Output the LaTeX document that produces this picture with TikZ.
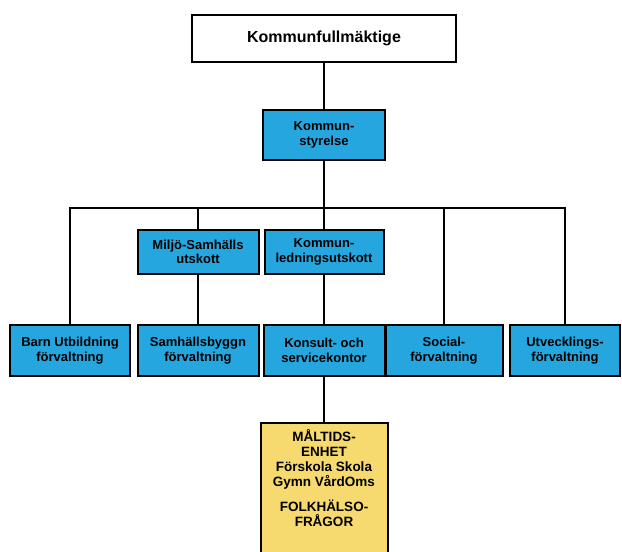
\documentclass[tikz,border=0pt]{standalone}
\usepackage{fontspec}
\setsansfont{Liberation Sans}
\usepackage{tikz}
\usetikzlibrary{positioning,calc}
\definecolor{orgblue}{RGB}{38,166,222}
\definecolor{orgyellow}{RGB}{246,218,112}

\begin{document}
\begin{tikzpicture}[x=1pt,y=1pt,line width=2pt,
  org node/.style={rectangle,draw=black,line width=2pt,align=center,
  font=\sffamily\bfseries\fontsize{13}{14.5}\selectfont,inner sep=2pt},
  top node/.style={org node,fill=white,minimum width=264,minimum height=47,
  font=\sffamily\bfseries\fontsize{16}{18}\selectfont},
  blue node/.style={org node,fill=orgblue,minimum height=44},
  low node/.style={blue node,minimum height=51},
  yellow node/.style={org node,fill=orgyellow,minimum width=127,
  anchor=north,inner ysep=7pt,text depth=60pt,
  font=\sffamily\bfseries\fontsize{13.5}{15}\selectfont}]

  \useasboundingbox (0,0) rectangle (622,552);

  \node[top node] (fullm) at (324,513.5) {Kommunfullmäktige};
  \node[blue node,minimum width=122,minimum height=50] (styrelse) at (324,417) {Kommun-\\styrelse};
  \coordinate (bar) at (324,344);

  \node[blue node,minimum width=121] (miljo) at (198,300) {Miljö-Samhälls\\utskott};
  \node[blue node,minimum width=119] (kledn) at (324,300) {Kommun-\\ledningsutskott};

  \node[low node,minimum width=120] (barn) at (70,201.5) {Barn Utbildning\\förvaltning};
  \node[low node,minimum width=121] (samh) at (198,201.5) {Samhällsbyggn\\förvaltning};
  \node[low node,minimum width=121] (konsult) at (324,201.5) {Konsult- och\\servicekontor};
  \node[low node,minimum width=117] (social) at (444,201.5) {Social-\\förvaltning};
  \node[low node,minimum width=110] (utv) at (565,201.5) {Utvecklings-\\förvaltning};

  \node[yellow node] (maltid) at (324,130) {MÅLTIDS-\\ENHET\\Förskola Skola\\Gymn VårdOms\\[10pt]FOLKHÄLSO-\\FRÅGOR};

  \path[draw=black]
    (fullm) edge (styrelse)
    (styrelse) edge (kledn)
    (kledn) edge (konsult)
    (konsult) edge (maltid)
    (miljo) edge (samh);
  \draw (barn.north) |- (bar) -| (utv.north);
  \draw (miljo.north) -- (miljo.north |- bar);
  \draw (social.north) -- (social.north |- bar);
\end{tikzpicture}
\end{document}
